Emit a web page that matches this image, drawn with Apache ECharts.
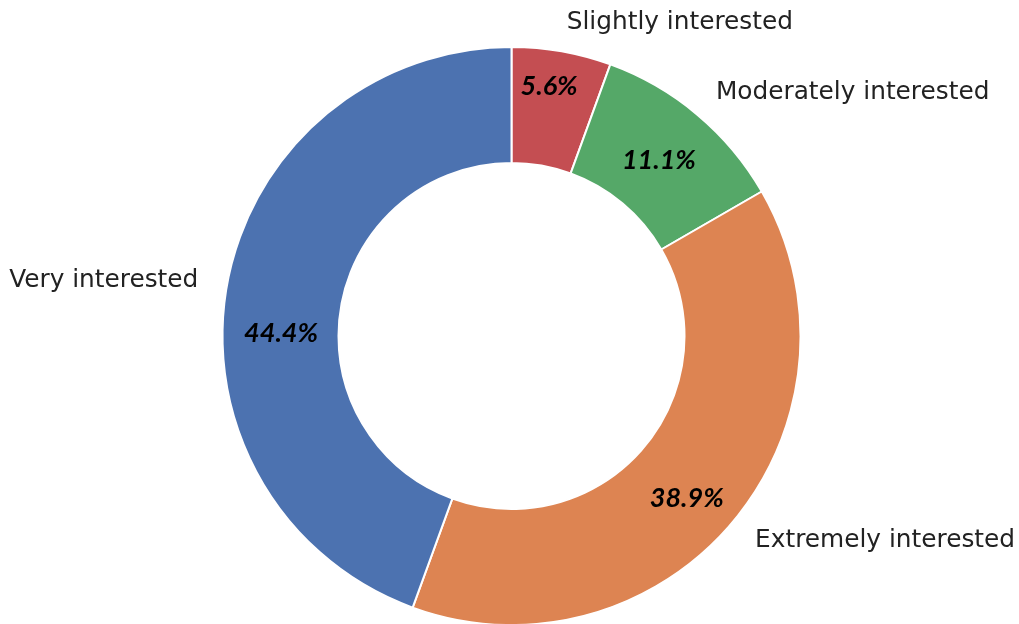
<!DOCTYPE html>
<html>
<head>
<meta charset="utf-8">
<script src="https://cdn.jsdelivr.net/npm/echarts@6/dist/echarts.min.js"></script>
<style>
html,body{margin:0;padding:0;background:#fff;}
#main{width:1019px;height:624px;}
</style>
</head>
<body>
<div id="main"></div>
<script>
// Data
const categories = ['Slightly interested', 'Moderately interested', 'Extremely interested', 'Very interested'];
const counts = [1, 2, 7, 8];
const percentLabels = ['5.6%', '11.1%', '38.9%', '44.4%'];

// Styling (not data)
const colors = ['#C44E52', '#55A868', '#DD8452', '#4C72B0'];
const pctOffsets = [[-3, -19], [-3, 4], [-4, 12], [0, 38]];

const chart = echarts.init(document.getElementById('main'), null, {renderer: 'canvas'});

const common = {
  type: 'pie',
  center: [511.5, 336],
  radius: [173, 289],
  startAngle: 90,
  clockwise: true,
  avoidLabelOverlap: false,
  animation: false,
  silent: true
};

chart.setOption({
  backgroundColor: '#ffffff',
  series: [
    Object.assign({}, common, {
      name: 'outer',
      itemStyle: {borderColor: '#ffffff', borderWidth: 2},
      label: {
        show: true,
        position: 'outside',
        formatter: '{b}',
        fontFamily: 'DejaVu Sans',
        fontSize: 24.8,
        color: '#222222',
        distanceToLabelLine: 0
      },
      labelLine: {show: false, length: 29, length2: 0},
      data: categories.map((c, i) => ({
        name: c,
        value: counts[i],
        itemStyle: {color: colors[i]}
      }))
    }),
    Object.assign({}, common, {
      name: 'pct',
      z: 3,
      itemStyle: {color: 'rgba(0,0,0,0)', borderWidth: 0},
      label: {
        show: true,
        position: 'inside',
        fontFamily: 'Lato',
        fontWeight: 'bold',
        fontStyle: 'italic',
        fontSize: 27,
        color: '#000000'
      },
      labelLine: {show: false},
      data: categories.map((c, i) => ({
        name: c,
        value: counts[i],
        label: {formatter: percentLabels[i], offset: pctOffsets[i]}
      }))
    })
  ]
});
</script>
</body>
</html>
